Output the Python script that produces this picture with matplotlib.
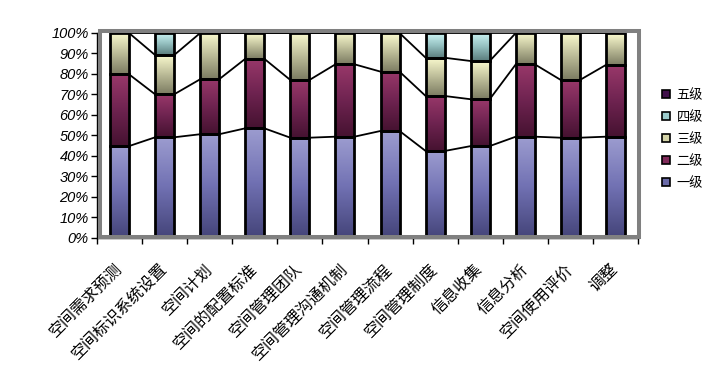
import numpy as np
import matplotlib
matplotlib.use("Agg")
import matplotlib.pyplot as plt
from matplotlib.patches import Rectangle, Patch
from matplotlib.colors import LinearSegmentedColormap
import matplotlib.transforms as mtransforms

plt.rcParams['font.family'] = ['Noto Sans CJK SC', 'DejaVu Sans']

categories = ["空间需求预测", "空间标识系统设置", "空间计划", "空间的配置标准", "空间管理团队",
              "空间管理沟通机制", "空间管理流程", "空间管理制度", "信息收集", "信息分析",
              "空间使用评价", "调整"]
series_names = ["一级", "二级", "三级", "四级", "五级"]
level1 = [44.7, 49.0, 50.5, 53.4, 48.8, 49.3, 52.1, 42.3, 44.7, 49.3, 48.8, 49.3]
level2 = [35.1, 21.0, 26.9, 34.0, 28.2, 35.4, 29.0, 26.9, 22.9, 35.4, 28.2, 35.1]
level3 = [20.2, 19.2, 22.6, 12.6, 23.0, 15.3, 18.9, 18.7, 18.7, 15.3, 23.0, 15.6]
level4 = [0.0, 10.8, 0.0, 0.0, 0.0, 0.0, 0.0, 12.1, 13.7, 0.0, 0.0, 0.0]
level5 = [0.0, 0.0, 0.0, 0.0, 0.0, 0.0, 0.0, 0.0, 0.0, 0.0, 0.0, 0.0]
series_values = [level1, level2, level3, level4, level5]

# gradient colours (bottom -> top)
grad_colors = [
    ["#45457a", "#7171b3", "#9d9dd0"],
    ["#451230", "#6e2350", "#99386a"],
    ["#7c7c62", "#bcbc98", "#fcfcd0"],
    ["#5a7c7c", "#94c0c0", "#cef6f6"],
    ["#1e061e", "#3c103c", "#5c1e5c"],
]
legend_colors = ["#6a6aa8", "#802a5a", "#d4d4a8", "#9ccccc", "#40104a"]

W, H = 725, 370
fig = plt.figure(figsize=(W / 100, H / 100), dpi=100)
x_left, x_right = 97, 638
y_top, y_bot = 33, 237.5
ax = fig.add_axes([x_left / W, 1 - y_bot / H, (x_right - x_left) / W, (y_bot - y_top) / H])

n = len(categories)
x = np.arange(n)
bw = 0.42
totals = np.sum(np.array(series_values), axis=0)
data = np.array(series_values) / totals * 100.0
cum = np.cumsum(data, axis=0)
bottoms = cum - data

for s in range(len(series_values)):
    cmap = LinearSegmentedColormap.from_list("g%d" % s, grad_colors[s])
    grad = np.linspace(0, 1, 128).reshape(-1, 1)
    for i in range(n):
        h = data[s, i]
        if h <= 0:
            continue
        b = bottoms[s, i]
        ax.imshow(grad, cmap=cmap, origin='lower', aspect='auto',
                  extent=[x[i] - bw / 2, x[i] + bw / 2, b, b + h], zorder=2,
                  interpolation='bilinear')
        ax.add_patch(Rectangle((x[i] - bw / 2, b), bw, h, facecolor='none',
                               edgecolor='black', linewidth=2.0, zorder=3))

# series lines
for s in range(len(series_values) - 1):
    for i in range(n - 1):
        ax.plot([x[i] + bw / 2, x[i + 1] - bw / 2], [cum[s, i], cum[s, i + 1]],
                color='black', linewidth=1.3, zorder=3, solid_capstyle='butt')

ax.set_xlim(-0.5, n - 0.5)
ax.set_ylim(0, 100)

# frame
for sp in ['top', 'right']:
    ax.spines[sp].set_visible(False)
ax.spines['left'].set_linewidth(1.0)
ax.spines['bottom'].set_linewidth(1.0)
ax.spines['left'].set_zorder(5)
ax.spines['bottom'].set_zorder(5)
pix = mtransforms.IdentityTransform()
frame = Rectangle((99.5, H - 236.5), 638.5 - 99.5, 236.5 - 31, transform=pix,
                  facecolor='none', edgecolor='#808080', linewidth=2.9, zorder=1)
fig.add_artist(frame)

ax.set_yticks(np.arange(0, 101, 10))
ax.set_yticklabels(["%d%%" % v for v in range(0, 101, 10)], fontstyle='italic',
                   family=['Liberation Sans', 'DejaVu Sans'], fontsize=10.5)
ax.tick_params(axis='y', length=4, width=1, pad=2)

ax.set_xticks(np.arange(-0.5, n, 1.0))
ax.set_xticklabels([])
ax.tick_params(axis='x', which='major', length=4.5, width=1)
ax.set_xticks(x, minor=True)
ax.set_xticklabels(categories, minor=True, rotation=45, ha='right', va='center',
                   rotation_mode='anchor', fontsize=11.5)
offset = mtransforms.ScaledTranslation(-4 / 72, 0, fig.dpi_scale_trans)
for lbl in ax.get_xticklabels(minor=True):
    lbl.set_transform(lbl.get_transform() + offset)
ax.tick_params(axis='x', which='minor', length=0, pad=21)

handles = [Patch(facecolor=legend_colors[s], edgecolor='black', linewidth=1.2)
           for s in range(len(series_names))][::-1]
leg = fig.legend(handles, series_names[::-1], loc='upper left',
                 bbox_to_anchor=(650 / W, 1 - 77 / H), frameon=False,
                 fontsize=9.5, handlelength=0.6, handleheight=0.6,
                 handletextpad=0.5, labelspacing=0.68)

fig.savefig("out.png", dpi=100)
